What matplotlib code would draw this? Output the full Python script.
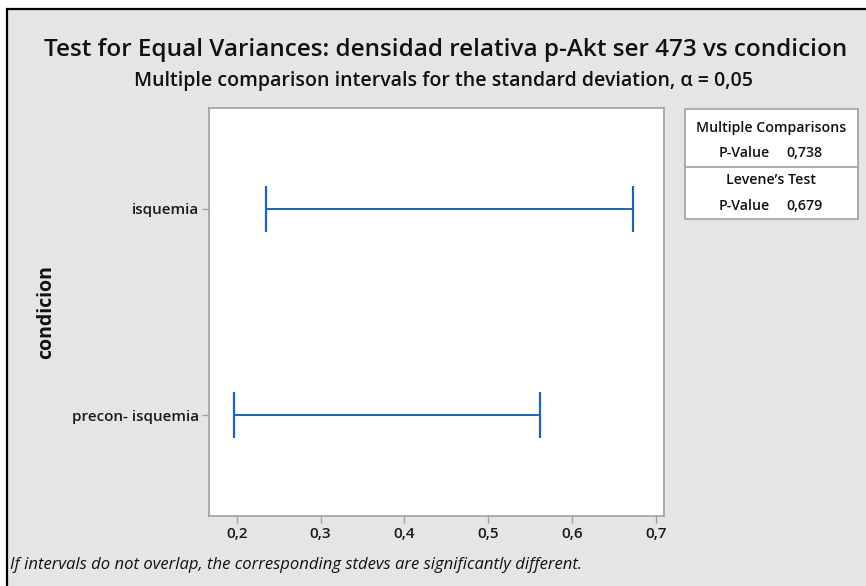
import matplotlib
matplotlib.use("Agg")
import matplotlib.pyplot as plt
from matplotlib import font_manager as fm
from matplotlib.patches import Rectangle
from matplotlib.ticker import FuncFormatter

# multiple comparison intervals for the standard deviation
groups = ["precon- isquemia", "isquemia"]
lower = [0.197, 0.2345]
upper = [0.562, 0.673]
x_ticks = [0.2, 0.3, 0.4, 0.5, 0.6, 0.7]

mc_pvalue = "0,738"
levene_pvalue = "0,679"


def _w(v):
    try:
        return int(v)
    except (TypeError, ValueError):
        return fm.weight_dict.get(v, 400)


def pick(weight=400, style="normal", size=10):
    # Open Sans, not the condensed cut
    cands = [f for f in fm.fontManager.ttflist
             if f.name == "Open Sans" and f.style == style
             and "ondensed" not in f.fname and f.stretch in ("normal", 500, "500")]
    if not cands:
        return fm.FontProperties(family=["Open Sans", "DejaVu Sans"], weight=weight,
                                 style=style, size=size)
    best = min(cands, key=lambda f: abs(_w(f.weight) - weight))
    return fm.FontProperties(fname=best.fname, size=size)


W, H = 866, 586
fig = plt.figure(figsize=(W / 100, H / 100), dpi=100, facecolor="white")

def fx(px):
    return px / W

def fy(py):
    return 1 - py / H

# gray panel with black border (only left/top visible)
fig.add_artist(Rectangle((fx(7), -0.1), 1.2, fy(9) + 0.1, transform=fig.transFigure,
                         facecolor="#E5E5E5", edgecolor="black", linewidth=1.6, zorder=-5))

ax = fig.add_axes([fx(209), fy(516), fx(664) - fx(209), fy(108) - fy(516)])
ax.set_facecolor("white")

blue = "#1F64B4"
ypos = list(range(len(groups)))
centers = [(lo + hi) / 2 for lo, hi in zip(lower, upper)]
halfw = [(hi - lo) / 2 for lo, hi in zip(lower, upper)]
ax.errorbar(centers, ypos, xerr=halfw, fmt="none", ecolor=blue, elinewidth=1.4,
            capsize=16.5, capthick=1.6)

ax.set_xlim(0.167, 0.7095)
ax.set_ylim(-0.49, 1.49)
ax.set_xticks(x_ticks)
ax.xaxis.set_major_formatter(FuncFormatter(lambda v, p: f"{v:.1f}".replace(".", ",")))
ax.set_yticks(ypos)
ax.set_yticklabels(groups)
for s in ax.spines.values():
    s.set_color("#A0A0A0")
    s.set_linewidth(1.2)
ax.tick_params(axis="both", colors="#A0A0A0", length=5, width=1, labelcolor="#1a1a1a")
ax.tick_params(axis="x", pad=3)
ax.tick_params(axis="y", pad=2)
tick_fp = pick(600, size=11)
for lab in ax.get_xticklabels() + ax.get_yticklabels():
    lab.set_fontproperties(tick_fp)
ax.set_ylabel("condicion", fontproperties=pick(650, size=14), color="#111111")
ax.yaxis.set_label_coords(-(209 - 56) / (664 - 209), 0.5)

fig.text(fx(446), fy(50), "Test for Equal Variances: densidad relativa p-Akt ser 473 vs condicion",
         ha="center", va="center", fontproperties=pick(600, size=17.5), color="#111111")
fig.text(fx(443), fy(81), "Multiple comparison intervals for the standard deviation, \u03b1 = 0,05",
         ha="center", va="center", fontproperties=pick(600, size=14), color="#111111")
fig.text(fx(10), fy(565), "If intervals do not overlap, the corresponding stdevs are significantly different.",
         ha="left", va="center", fontproperties=pick(400, "italic", size=12), color="#111111")

# result table
tl, tr, tt, tb, tm = 685, 858, 109, 219, 166.7
fig.add_artist(Rectangle((fx(tl), fy(tb)), fx(tr) - fx(tl), fy(tt) - fy(tb),
                         transform=fig.transFigure, facecolor="white",
                         edgecolor="#A0A0A0", linewidth=1.2, zorder=1))
fig.add_artist(plt.Line2D([fx(tl), fx(tr)], [fy(tm), fy(tm)], transform=fig.transFigure,
                          color="#A0A0A0", linewidth=1.2, zorder=2))
tc = (tl + tr) / 2
tfp = pick(600, size=10.2)
fig.text(fx(tc), fy(128), "Multiple Comparisons", ha="center", va="center",
         fontproperties=tfp, color="#111111")
fig.text(fx(770), fy(153), "P-Value", ha="right", va="center", fontproperties=tfp,
         color="#111111")
fig.text(fx(786), fy(153), mc_pvalue, ha="left", va="center", fontproperties=tfp,
         color="#111111")
fig.text(fx(tc), fy(180), "Levene\u2019s Test", ha="center", va="center",
         fontproperties=tfp, color="#111111")
fig.text(fx(770), fy(206), "P-Value", ha="right", va="center", fontproperties=tfp,
         color="#111111")
fig.text(fx(786), fy(206), levene_pvalue, ha="left", va="center", fontproperties=tfp,
         color="#111111")

fig.savefig("out.png", dpi=100, facecolor=fig.get_facecolor())
